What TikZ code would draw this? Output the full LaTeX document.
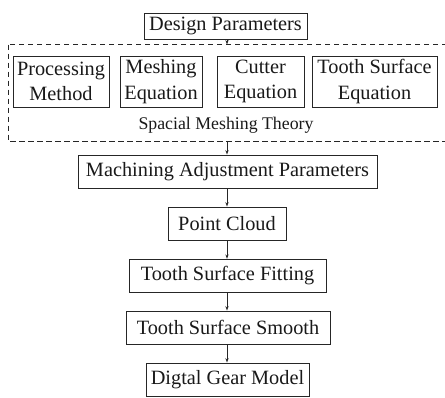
\documentclass[tikz,border=0pt]{standalone}
\usepackage{fontspec}
\setmainfont{Liberation Serif}
\usetikzlibrary{arrows.meta}
\begin{document}
\begin{tikzpicture}[x=1pt,y=-1pt,
  box/.style={draw=black!85,line width=0.9pt,inner sep=0pt,minimum height=33pt,font=\fontsize{20.3}{25.5}\selectfont,text=black!90},
  ibox/.style={box,minimum height=51pt,align=center},
  conn/.style={line width=0.8pt,draw=black!85,-{Stealth[length=4.5pt,width=3.2pt]}}]
\useasboundingbox (0,0) rectangle (445,397);
\node[box,minimum width=163pt,minimum height=26pt] (dp) at (225.5,26) {Design Parameters};
\draw[line width=0.8pt,draw=black!85,dash pattern=on 5.5pt off 3.5pt] (8,44.5) rectangle (450,141.5);
\coordinate (dtop) at (227,44.5);
\coordinate (dbot) at (227,141.5);
\node[ibox,minimum width=96pt] (pm) at (61,81.5) {Processing\\Method};
\node[ibox,minimum width=82pt] (me) at (161,81.5) {Meshing\\Equation};
\node[ibox,minimum width=87pt] (ce) at (260.5,81.5) {Cutter\\Equation};
\node[ibox,minimum width=125pt] (ts) at (374.5,81.5) {Tooth Surface\\Equation};
\node[inner sep=0pt,font=\fontsize{17.8}{20}\selectfont,text=black!90] (smt) at (226,125) {Spacial Meshing Theory};
\node[box,minimum width=299pt] (map) at (227.5,171.5) {Machining Adjustment Parameters};
\node[box,minimum width=118pt] (pc) at (227,223.5) {Point Cloud};
\node[box,minimum width=197pt] (tsf) at (227.5,275.8) {Tooth Surface Fitting};
\node[box,minimum width=204pt] (tss) at (228,327.5) {Tooth Surface Smooth};
\node[box,minimum width=163pt] (dgm) at (227.5,379.5) {Digtal Gear Model};
\draw[conn] (dp.south -| dtop) -- (dtop);
\draw[conn] (dbot) -- (map.north -| dbot);
\draw[conn] (map.south -| dbot) -- (pc.north -| dbot);
\draw[conn] (pc.south -| dbot) -- (tsf.north -| dbot);
\draw[conn] (tsf.south -| dbot) -- (tss.north -| dbot);
\draw[conn] (tss.south -| dbot) -- (dgm.north -| dbot);
\end{tikzpicture}
\end{document}
